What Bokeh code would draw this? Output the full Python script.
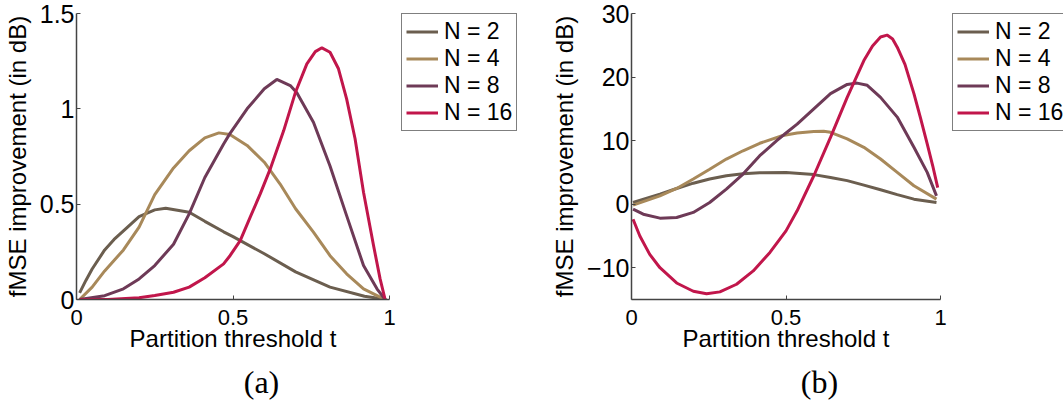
from bokeh.plotting import figure
from bokeh.layouts import row, column
from bokeh.models import Range1d, FixedTicker, Legend, LegendItem, Label
from bokeh.embed import file_html
from bokeh.resources import INLINE

# ---------------- data: panel (a) ----------------
a_t_n2 = [0.01, 0.03, 0.05, 0.09, 0.12, 0.15, 0.20, 0.25, 0.285, 0.36, 0.41, 0.47, 0.50, 0.60, 0.70, 0.81, 0.92, 0.99]
a_v_n2 = [0.035, 0.10, 0.16, 0.26, 0.315, 0.36, 0.435, 0.47, 0.479, 0.458, 0.41, 0.355, 0.33, 0.24, 0.145, 0.065, 0.017, 0.0]

a_t_n4 = [0.01, 0.05, 0.09, 0.15, 0.20, 0.25, 0.31, 0.36, 0.41, 0.455, 0.49, 0.545, 0.60, 0.65, 0.70, 0.757, 0.81, 0.863, 0.917, 0.97, 0.985]
a_v_n4 = [0.0, 0.065, 0.15, 0.26, 0.38, 0.55, 0.69, 0.78, 0.848, 0.874, 0.865, 0.808, 0.72, 0.607, 0.476, 0.353, 0.23, 0.135, 0.056, 0.012, 0.0]

a_t_n8 = [0.01, 0.09, 0.15, 0.20, 0.25, 0.31, 0.36, 0.41, 0.47, 0.49, 0.545, 0.60, 0.64, 0.683, 0.704, 0.757, 0.81, 0.863, 0.917, 0.96, 0.986]
a_v_n8 = [0.0, 0.02, 0.056, 0.108, 0.178, 0.29, 0.449, 0.64, 0.816, 0.87, 1.0, 1.105, 1.154, 1.122, 1.084, 0.93, 0.70, 0.44, 0.178, 0.056, 0.0]

a_t_n16 = [0.01, 0.10, 0.20, 0.25, 0.31, 0.36, 0.41, 0.47, 0.491, 0.523, 0.555, 0.587, 0.619, 0.662, 0.699, 0.736, 0.763, 0.784, 0.81, 0.837, 0.863, 0.89, 0.917, 0.949, 0.97, 0.986]
a_v_n16 = [0.0, 0.0, 0.009, 0.021, 0.038, 0.065, 0.114, 0.187, 0.231, 0.309, 0.432, 0.554, 0.685, 0.886, 1.084, 1.236, 1.30, 1.32, 1.297, 1.21, 1.052, 0.843, 0.563, 0.283, 0.108, 0.0]

# ---------------- data: panel (b) ----------------
b_t_n2 = [0.005, 0.092, 0.146, 0.20, 0.253, 0.307, 0.361, 0.415, 0.50, 0.59, 0.644, 0.698, 0.752, 0.806, 0.86, 0.914, 0.987]
b_v_n2 = [0.26, 1.58, 2.47, 3.3, 3.95, 4.47, 4.79, 4.95, 5.0, 4.65, 4.2, 3.7, 3.0, 2.26, 1.5, 0.79, 0.26]

b_t_n4 = [0.005, 0.092, 0.146, 0.20, 0.253, 0.307, 0.361, 0.415, 0.49, 0.536, 0.59, 0.622, 0.644, 0.698, 0.752, 0.806, 0.86, 0.914, 0.987]
b_v_n4 = [-0.16, 1.3, 2.47, 3.95, 5.5, 7.1, 8.4, 9.58, 10.8, 11.2, 11.45, 11.47, 11.3, 10.26, 8.95, 7.1, 5.0, 2.9, 0.79]

b_t_n8 = [0.005, 0.038, 0.092, 0.146, 0.20, 0.253, 0.307, 0.361, 0.415, 0.47, 0.50, 0.536, 0.59, 0.644, 0.698, 0.73, 0.763, 0.806, 0.86, 0.914, 0.957, 0.987]
b_v_n8 = [-0.79, -1.58, -2.2, -2.1, -1.3, 0.26, 2.37, 4.74, 7.63, 10.0, 11.2, 12.6, 15.0, 17.4, 18.84, 19.05, 18.7, 16.8, 13.7, 8.95, 5.0, 1.3]

b_t_n16 = [0.005, 0.027, 0.059, 0.092, 0.146, 0.20, 0.243, 0.286, 0.34, 0.394, 0.448, 0.50, 0.536, 0.59, 0.644, 0.698, 0.752, 0.78, 0.806, 0.827, 0.845, 0.86, 0.885, 0.914, 0.935, 0.957, 0.975, 0.991]
b_v_n16 = [-2.37, -5.0, -7.9, -10.0, -12.4, -13.7, -14.1, -13.8, -12.6, -10.5, -7.6, -4.2, -1.05, 4.47, 10.5, 16.8, 22.6, 24.9, 26.3, 26.6, 26.0, 24.7, 22.0, 17.4, 13.6, 9.47, 6.0, 2.6]

series_labels = ["N = 2", "N = 4", "N = 8", "N = 16"]
series_colors = ["#6b5e4f", "#a8895a", "#6e3a57", "#c1164b"]
captions = ["(a)", "(b)"]

x_ticks = [0, 0.5, 1]
x_tick_labels = {0: "0", 0.5: "0.5", 1: "1"}
a_y_ticks = [0, 0.5, 1, 1.5]
a_y_tick_labels = {0: "0", 0.5: "0.5", 1: "1", 1.5: "1.5"}
b_y_ticks = [-10, 0, 10, 20, 30]
b_y_tick_labels = {-10: "\u221210", 0: "0", 10: "10", 20: "20", 30: "30"}

SANS = "Liberation Sans"
SERIF = "Liberation Serif"
AXIS_COLOR = "#444444"
MAIN_H = 360
FRAME_TOP = 13
FRAME_H = 286

series_a = [(a_t_n2, a_v_n2), (a_t_n4, a_v_n4), (a_t_n8, a_v_n8), (a_t_n16, a_v_n16)]
series_b = [(b_t_n2, b_v_n2), (b_t_n4, b_v_n4), (b_t_n8, b_v_n8), (b_t_n16, b_v_n16)]


def make_panel(width, border_left, frame_w, y_range, y_ticks, y_labels, series):
    border_right = width - border_left - frame_w
    p = figure(width=width, height=MAIN_H, x_range=Range1d(0, 1), y_range=y_range,
               output_backend="svg", toolbar_location=None, min_border=0,
               min_border_left=border_left, min_border_right=border_right,
               min_border_top=FRAME_TOP, min_border_bottom=MAIN_H - FRAME_TOP - FRAME_H)
    p.outline_line_color = None
    p.xgrid.visible = False
    p.ygrid.visible = False
    p.background_fill_color = "white"
    p.border_fill_color = "white"

    for ax in (p.xaxis[0], p.yaxis[0]):
        ax.axis_line_color = AXIS_COLOR
        ax.axis_line_width = 1.5
        ax.major_tick_line_color = AXIS_COLOR
        ax.major_tick_in = 4
        ax.major_tick_out = 0
        ax.minor_tick_line_color = None
        ax.major_label_text_font = SANS
        ax.major_label_text_color = "black"
        ax.axis_label_text_font = SANS
        ax.axis_label_text_font_style = "normal"
        ax.axis_label_text_font_size = "24px"
        ax.axis_label_text_color = "black"

    xa = p.xaxis[0]
    xa.ticker = FixedTicker(ticks=x_ticks)
    xa.major_label_overrides = x_tick_labels
    xa.major_label_text_font_size = "22px"
    xa.major_label_standoff = 10
    xa.axis_label = "Partition threshold t"
    xa.axis_label_standoff = -3

    ya = p.yaxis[0]
    ya.ticker = FixedTicker(ticks=y_ticks)
    ya.major_label_overrides = y_labels
    ya.major_label_text_font_size = "25px"
    ya.major_label_standoff = 2
    ya.axis_label = "fMSE improvement (in dB)"
    ya.axis_label_standoff = 6

    for (ts, vs), col in zip(series, series_colors):
        p.line(ts, vs, line_color=col, line_width=3)
    return p


def make_legend_fig(width, series):
    # the series are drawn out of view; only the legend is visible
    lf = figure(width=width, height=MAIN_H, output_backend="svg", toolbar_location=None,
                x_axis_type=None, y_axis_type=None, min_border=0,
                x_range=Range1d(5, 6), y_range=Range1d(5, 6),
                min_border_left=1, min_border_right=0, min_border_top=FRAME_TOP, min_border_bottom=0)
    lf.outline_line_color = None
    lf.background_fill_color = "white"
    lf.border_fill_color = "white"
    items = []
    for (ts, vs), lab, col in zip(series, series_labels, series_colors):
        r = lf.line(ts, vs, line_color=col, line_width=3)
        items.append(LegendItem(label=lab, renderers=[r]))
    leg = Legend(items=items, location="top_left", nrows=4)
    leg.border_line_color = "black"
    leg.border_line_width = 1
    leg.background_fill_color = "white"
    leg.background_fill_alpha = 1
    leg.label_text_font = SANS
    leg.label_text_font_size = "23px"
    leg.label_text_color = "black"
    leg.glyph_width = 32
    leg.glyph_height = 27
    leg.label_height = 27
    leg.label_standoff = 6
    leg.padding = 4
    leg.spacing = 0
    leg.margin = 0
    lf.add_layout(leg)
    return lf


p1 = make_panel(400, 76, 313, Range1d(0, 1.5), a_y_ticks, a_y_tick_labels, series_a)
leg1 = make_legend_fig(118, series_a)
p2 = make_panel(433, 113, 309, Range1d(-15, 30), b_y_ticks, b_y_tick_labels, series_b)
leg2 = make_legend_fig(112, series_b)

cap = figure(width=1063, height=40, output_backend="svg", toolbar_location=None,
             x_axis_type=None, y_axis_type=None, min_border=0,
             x_range=Range1d(0, 1), y_range=Range1d(0, 1))
cap.outline_line_color = None
cap.xgrid.visible = False
cap.ygrid.visible = False
for txt, cx in zip(captions, [261, 819]):
    cap.add_layout(Label(x=cx, y=19, x_units="screen", y_units="screen", text=txt,
                         text_font=SERIF, text_font_size="32px", text_align="center",
                         text_baseline="alphabetic", text_color="black"))

layout = column(row(p1, leg1, p2, leg2), cap)
open("out.html", "w").write(file_html(layout, INLINE))
